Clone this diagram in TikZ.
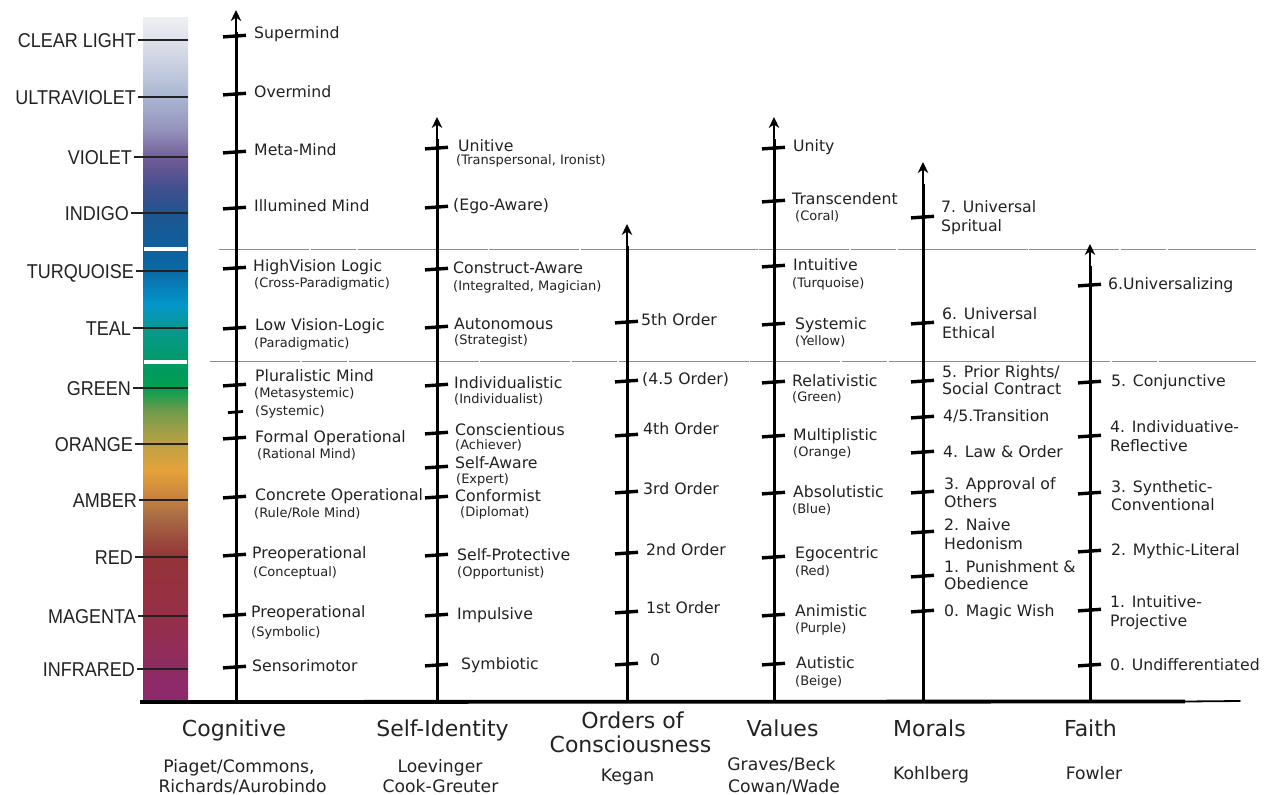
\documentclass[tikz,border=0pt]{standalone}
\usepackage{fontspec}
\setmainfont{DejaVu Sans}
\newfontfamily\barfont[FakeStretch=0.9]{Liberation Sans}
\usetikzlibrary{arrows.meta}
\definecolor{ink}{HTML}{222222}
\definecolor{s17}{HTML}{EEEFF3}
\definecolor{s40}{HTML}{DFE2EA}
\definecolor{s97}{HTML}{AAB6D2}
\definecolor{s130}{HTML}{9592BB}
\definecolor{s160}{HTML}{6E5A95}
\definecolor{s190}{HTML}{3F4F8D}
\definecolor{s213}{HTML}{1F5590}
\definecolor{s245}{HTML}{0E5F9C}
\definecolor{s271}{HTML}{0B6AA6}
\definecolor{s305}{HTML}{0497CB}
\definecolor{s328}{HTML}{089890}
\definecolor{s370}{HTML}{009A5E}
\definecolor{s388}{HTML}{00A050}
\definecolor{s410}{HTML}{6D9B4A}
\definecolor{s444}{HTML}{BFA144}
\definecolor{s470}{HTML}{E5A23A}
\definecolor{s490}{HTML}{D08C3B}
\definecolor{s515}{HTML}{AB6E45}
\definecolor{s540}{HTML}{9A4A3C}
\definecolor{s557}{HTML}{953338}
\definecolor{s616}{HTML}{962F48}
\definecolor{s668}{HTML}{8E2C62}
\definecolor{s702}{HTML}{8E2870}
\pgfdeclareverticalshading{spectrum}{100bp}{color(0bp)=(s702); color(25bp)=(s702); color(27.48bp)=(s668); color(31.28bp)=(s616); color(35.58bp)=(s557); color(36.82bp)=(s540); color(38.65bp)=(s515); color(40.47bp)=(s490); color(41.93bp)=(s470); color(43.83bp)=(s444); color(46.31bp)=(s410); color(47.92bp)=(s388); color(49.23bp)=(s370); color(52.30bp)=(s328); color(53.98bp)=(s305); color(56.46bp)=(s271); color(58.36bp)=(s245); color(60.69bp)=(s213); color(62.37bp)=(s190); color(64.56bp)=(s160); color(66.75bp)=(s130); color(69.16bp)=(s97); color(73.32bp)=(s40); color(75bp)=(s17); color(100bp)=(s17)}
\newcommand{\devaxis}[3]{%
  \coordinate (#1-top) at (#2,#3);
  \coordinate (#1-mid) at (#2,#3+22);
  \coordinate (#1-bot) at (#2,702);
  \draw[axisthick] (#1-bot) -- (#1-mid);
  \draw[axisthin] (#1-mid) -- (#1-top);
}
\begin{document}
\begin{tikzpicture}[x=1pt,y=-1pt,
  lab/.style={anchor=west, inner sep=0pt, text=ink, font=\fontsize{15.7}{18}\selectfont, text height=11.4pt, text depth=0pt},
  sub/.style={anchor=west, inner sep=0pt, text=ink, font=\fontsize{13}{15}\selectfont, text height=9.5pt, text depth=0pt},
  barlab/.style={anchor=east, inner sep=0pt, text=ink, font=\barfont\fontsize{20}{22}\selectfont, text height=14.3pt, text depth=0pt},
  cat/.style={inner sep=0pt, text=ink, font=\fontsize{22}{24}\selectfont, text height=16pt, text depth=0pt},
  who/.style={inner sep=0pt, text=ink, font=\fontsize{17.2}{20}\selectfont, text height=12.5pt, text depth=0pt},
  barline/.style={draw=ink, line width=1.3pt, shorten <=2pt},
  sepline/.style={draw=black!45, line width=1pt, dash pattern=on 90pt off 1.5pt on 45pt off 2pt on 130pt off 1.5pt},
  axisthick/.style={draw=black, line width=3pt},
  axisthin/.style={draw=black, line width=1.5pt, -{Stealth[length=11pt,width=10.5pt,inset=3.5pt]}},
  tk/.pic={\draw[black, line width=3.4pt] (-13,0.9) -- (10,-0.7);},
  tks/.pic={\draw[black, line width=2.8pt] (-8,0.6) -- (7,-0.5);}
]
\useasboundingbox (0,0) rectangle (1267,795);
\fill[white] (0,0) rectangle (1267,795);

% ---------- colour bar ----------
\coordinate (bar-tl) at (143,17);
\coordinate (bar-br) at (188,702);
\shade[shading=spectrum] (bar-tl) rectangle (bar-br);
\fill[white] (143.5,247.3) rectangle (187,251.3);
\fill[white] (143.5,359.5) rectangle (186.5,363.5);
\foreach \n/\t/\y/\xr in {cl/CLEAR LIGHT/40/136, uv/ULTRAVIOLET/97/136, vio/VIOLET/157/132, ind/INDIGO/213/129, tq/TURQUOISE/271/134, tel/TEAL/328/131, grn/GREEN/388/131, org/ORANGE/444/133, amb/AMBER/500/137, rd/RED/557/133, mag/MAGENTA/616/136, ir/INFRARED/669/135}
{
  \node[barlab] (\n) at (\xr,\y) {\t};
  \coordinate (\n-e) at (188,\y);
  \draw[barline] (\n.east) -- (\n-e);
}

% ---------- separators ----------
\coordinate (sep1a) at (219,249); \coordinate (sep1b) at (1256,249);
\coordinate (sep2a) at (210,361); \coordinate (sep2b) at (1256,361);
\draw[sepline] (sep1a) -- (sep1b);
\draw[sepline] (sep2a) -- (sep2b);

% ---------- baseline ----------
\coordinate (base-l) at (140,702);
\coordinate (base-m) at (1185,701.5);
\coordinate (base-r) at (1240,701);
\draw[black, line width=3.8pt] (base-l) -- (base-m);
\draw[black, line width=1.8pt, line cap=round] (base-m) -- (base-r);

% ---------- axes ----------
\devaxis{cog}{236}{10}
\devaxis{sid}{437}{117}
\devaxis{ord}{627}{224}
\devaxis{val}{774}{117}
\devaxis{mor}{923}{162}
\devaxis{fai}{1090}{244}

% ticks
\foreach \y in {36,94,152,208,268,328,385,438,497,555,615,667} \pic at (236,\y) {tk};
\pic at (236,412) {tks};
\foreach \y in {148,207,269,327,385,433,467,497,555,615,665} \pic at (438,\y) {tk};
\foreach \y in {322,381,435,492,553,612,664} \pic at (628,\y) {tk};
\foreach \y in {148,201,266,324,382,436,493,557,615,664} \pic at (775,\y) {tk};
\foreach \y in {217,323,381,417,452,492,532,576,611} \pic at (924,\y) {tk};
\foreach \y in {285,382,436,493,551,610,665} \pic at (1091,\y) {tk};

% ---------- Cognitive ----------
\node[lab] (c1) at (254,33) {Supermind};
\node[lab] (c2) at (254,92) {Overmind};
\node[lab] (c3) at (254,150) {Meta-Mind};
\node[lab] (c4) at (254,206) {Illumined Mind};
\node[lab] (c5) at (253,266) {HighVision Logic};
\node[sub] (c5s) at (254,283) {(Cross-Paradigmatic)};
\node[lab] (c6) at (255,325) {Low Vision-Logic};
\node[sub] (c6s) at (254,343) {(Paradigmatic)};
\node[lab] (c7) at (255,376) {Pluralistic Mind};
\node[sub] (c7s) at (254,393) {(Metasystemic)};
\node[sub] (c8) at (255,411) {(Systemic)};
\node[lab] (c9) at (255,437) {Formal Operational};
\node[sub] (c9s) at (257,454) {(Rational Mind)};
\node[lab] (c10) at (255,495) {Concrete Operational};
\node[sub] (c10s) at (254,513) {(Rule/Role Mind)};
\node[lab] (c11) at (252,553) {Preoperational};
\node[sub] (c11s) at (253,572) {(Conceptual)};
\node[lab] (c12) at (251,612) {Preoperational};
\node[sub] (c12s) at (251,632) {(Symbolic)};
\node[lab] (c13) at (252,666) {Sensorimotor};

% ---------- Self-Identity ----------
\node[lab] (s1) at (458,146) {Unitive};
\node[sub] (s1s) at (456,160) {(Transpersonal, Ironist)};
\node[lab] (s2) at (453,205) {(Ego-Aware)};
\node[lab] (s3) at (453,268) {Construct-Aware};
\node[sub] (s3s) at (453,286) {(Integralted, Magician)};
\node[lab] (s4) at (454,324) {Autonomous};
\node[sub] (s4s) at (454,340) {(Strategist)};
\node[lab] (s5) at (454,383) {Individualistic};
\node[sub] (s5s) at (454,399) {(Individualist)};
\node[lab] (s6) at (455,430) {Conscientious};
\node[sub] (s6s) at (455,445) {(Achiever)};
\node[lab] (s7) at (455,463) {Self-Aware};
\node[sub] (s7s) at (456,479) {(Expert)};
\node[lab] (s8) at (455,496) {Conformist};
\node[sub] (s8s) at (460,512) {(Diplomat)};
\node[lab] (s9) at (457,555) {Self-Protective};
\node[sub] (s9s) at (457,572) {(Opportunist)};
\node[lab] (s10) at (457,614) {Impulsive};
\node[lab] (s11) at (461,664) {Symbiotic};

% ---------- Orders ----------
\node[lab] (o1) at (641,320) {5th Order};
\node[lab] (o2) at (642,379) {(4.5 Order)};
\node[lab] (o3) at (643,429) {4th Order};
\node[lab] (o4) at (643,489) {3rd Order};
\node[lab] (o5) at (646,550) {2nd Order};
\node[lab] (o6) at (646,608) {1st Order};
\node[lab] (o7) at (650,660) {0};

% ---------- Values ----------
\node[lab] (v1) at (793,146) {Unity};
\node[lab] (v2) at (792,199) {Transcendent};
\node[sub] (v2s) at (795,216) {(Coral)};
\node[lab] (v3) at (793,265) {Intuitive};
\node[sub] (v3s) at (792,283) {(Turquoise)};
\node[lab] (v4) at (795,324) {Systemic};
\node[sub] (v4s) at (795,341) {(Yellow)};
\node[lab] (v5) at (792,381) {Relativistic};
\node[sub] (v5s) at (792,397) {(Green)};
\node[lab] (v6) at (793,435) {Multiplistic};
\node[sub] (v6s) at (793,452) {(Orange)};
\node[lab] (v7) at (793,492) {Absolutistic};
\node[sub] (v7s) at (792,509) {(Blue)};
\node[lab] (v8) at (795,553) {Egocentric};
\node[sub] (v8s) at (795,571) {(Red)};
\node[lab] (v9) at (795,611) {Animistic};
\node[sub] (v9s) at (795,628) {(Purple)};
\node[lab] (v10) at (796,663) {Autistic};
\node[sub] (v10s) at (795,681) {(Beige)};

% ---------- Morals ----------
\node[lab] (m1a) at (941,207) {7. Universal};
\node[lab] (m1b) at (941,226) {Spritual};
\node[lab] (m2a) at (942,314) {6. Universal};
\node[lab] (m2b) at (942,333) {Ethical};
\node[lab] (m3a) at (942,372) {5. Prior Rights/};
\node[lab] (m3b) at (942,389) {Social Contract};
\node[lab] (m4) at (943,416) {4/5.Transition};
\node[lab] (m5) at (943,452) {4. Law \& Order};
\node[lab] (m6a) at (944,484) {3. Approval of};
\node[lab] (m6b) at (944,502) {Others};
\node[lab] (m7a) at (944,525) {2. Naive};
\node[lab] (m7b) at (944,544) {Hedonism};
\node[lab] (m8a) at (944,567) {1. Punishment \&};
\node[lab] (m8b) at (944,584) {Obedience};
\node[lab] (m9) at (944,611) {0. Magic Wish};

% ---------- Faith ----------
\node[lab] (f1) at (1108,284) {6.Universalizing};
\node[lab] (f2) at (1111,381) {5. Conjunctive};
\node[lab] (f3a) at (1110,427) {4. Individuative-};
\node[lab] (f3b) at (1110,446) {Reflective};
\node[lab] (f4a) at (1111,487) {3. Synthetic-};
\node[lab] (f4b) at (1111,505) {Conventional};
\node[lab] (f5) at (1111,550) {2. Mythic-Literal};
\node[lab] (f6a) at (1110,602) {1. Intuitive-};
\node[lab] (f6b) at (1110,621) {Projective};
\node[lab] (f7) at (1110,665) {0. Undifferentiated};

% ---------- categories ----------
\node[cat] (k1) at (234,728.5) {Cognitive};
\node[cat] (k2) at (442.5,728.5) {Self-Identity};
\node[cat] (k3a) at (632.5,720.5) {Orders of};
\node[cat] (k3b) at (630.5,744.5) {Consciousness};
\node[cat] (k4) at (782.5,728.5) {Values};
\node[cat] (k5) at (929.5,728.5) {Morals};
\node[cat] (k6) at (1090.5,728.5) {Faith};

\node[who] (w1a) at (239,766.5) {Piaget/Commons,};
\node[who] (w1b) at (242.5,786) {Richards/Aurobindo};
\node[who] (w2a) at (440,766) {Loevinger};
\node[who] (w2b) at (440.5,786) {Cook-Greuter};
\node[who] (w3) at (627.5,775) {Kegan};
\node[who] (w4a) at (781.5,764.5) {Graves/Beck};
\node[who] (w4b) at (784,786) {Cowan/Wade};
\node[who] (w5) at (931,773) {Kohlberg};
\node[who] (w6) at (1094,773) {Fowler};
\end{tikzpicture}
\end{document}
